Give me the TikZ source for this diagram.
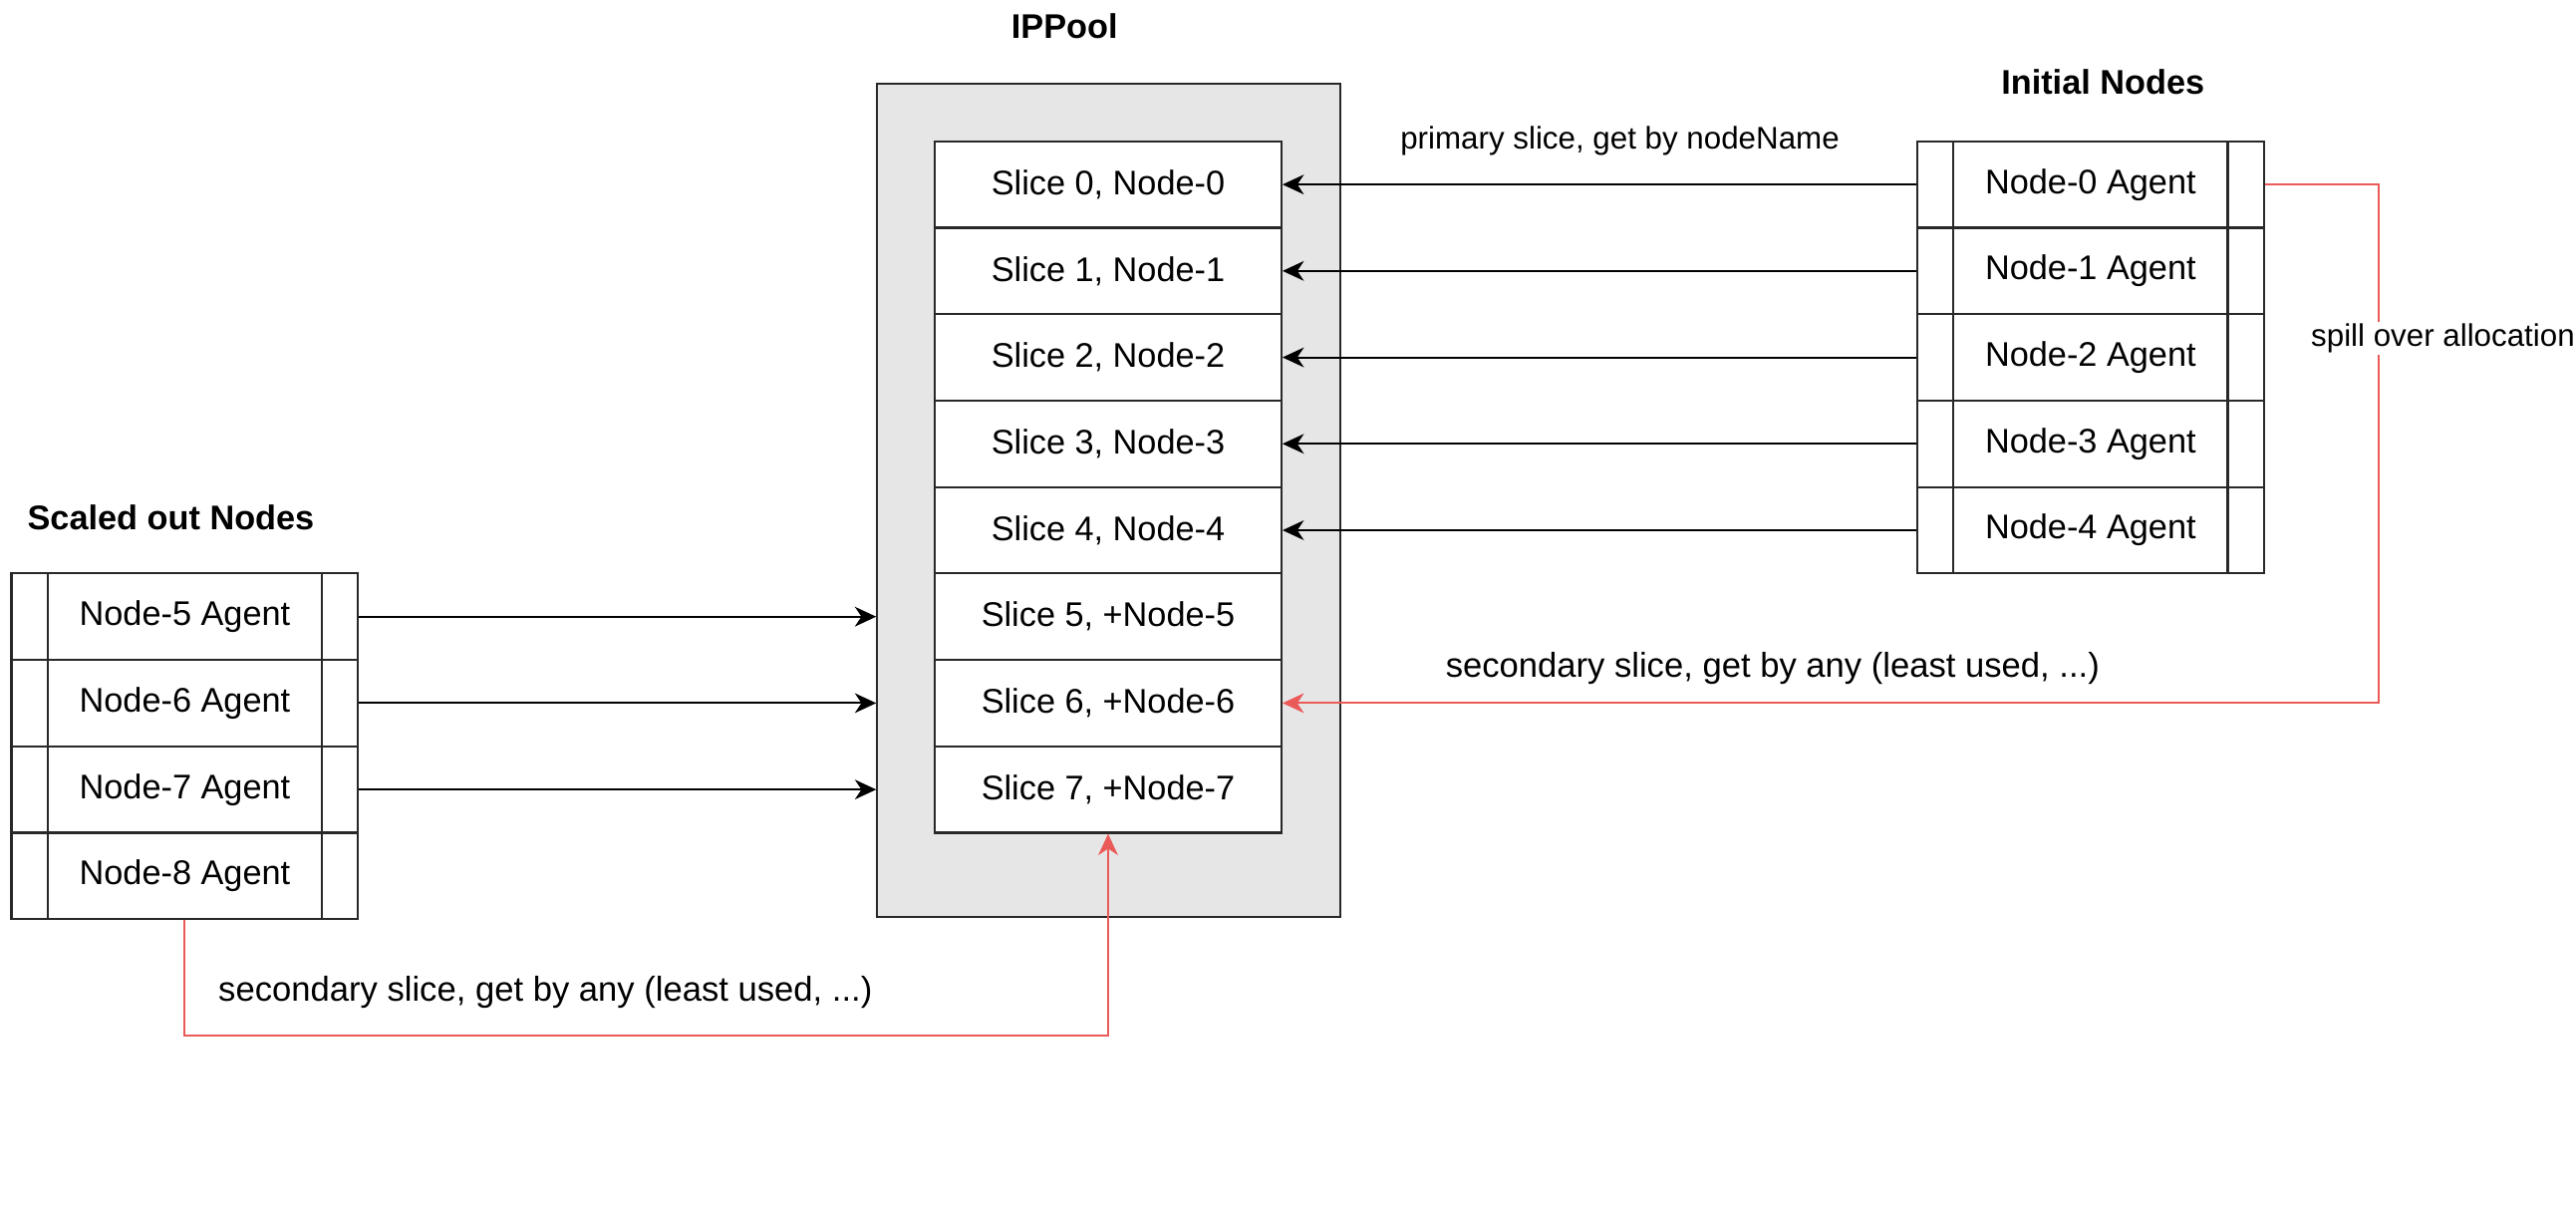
\documentclass[tikz,border=0pt]{standalone}
\usepackage{fontspec}
\setmainfont{Liberation Sans}
\usetikzlibrary{arrows.meta,calc}
\definecolor{redline}{RGB}{234,90,88}
\definecolor{poolfill}{RGB}{230,230,230}
\definecolor{boxline}{RGB}{40,40,40}
\tikzset{
  slicebox/.style={draw=boxline,line width=1.3pt,fill=white,minimum width=211pt,minimum height=52.6pt,inner sep=0pt,font=\fontsize{20.8}{25}\selectfont},
  agentbox/.style={slicebox,path picture={
      \draw[boxline,line width=1.3pt] ([xshift=22pt]path picture bounding box.north west) -- ([xshift=22pt]path picture bounding box.south west);
      \draw[boxline,line width=1.3pt] ([xshift=-22pt]path picture bounding box.north east) -- ([xshift=-22pt]path picture bounding box.south east);}},
  titletext/.style={font=\fontsize{20.8}{25}\selectfont\bfseries,inner sep=0pt},
  edgelabel/.style={font=\fontsize{19}{23}\selectfont,inner sep=1pt},
  widelabel/.style={font=\fontsize{21}{25}\selectfont,inner sep=1pt},
  blackarrow/.style={draw=black,line width=1.2pt,-{Stealth[length=13pt,width=12pt,inset=4pt]}},
  redarrow/.style={draw=redline,line width=1.2pt,-{Stealth[length=13pt,width=12pt,inset=4pt]}},
}
\begin{document}
\begin{tikzpicture}[x=1pt,y=-1pt]
\useasboundingbox (0,0) rectangle (1568,733);
% IPPool container
\node[draw=boxline,line width=1.3pt,fill=poolfill,minimum width=282pt,minimum height=507pt,inner sep=0pt] (pool) at (675,304.5) {};
\node[titletext] (pooltitle) at (648,16) {IPPool};
\node[titletext] (inittitle) at (1280,50) {Initial Nodes};
\node[titletext] (scaletitle) at (104,315) {Scaled out Nodes};
% slices
\node[slicebox] (sl0) at (674.5,112.3) {Slice 0, Node-0};
\node[slicebox] (sl1) at (674.5,164.9) {Slice 1, Node-1};
\node[slicebox] (sl2) at (674.5,217.5) {Slice 2, Node-2};
\node[slicebox] (sl3) at (674.5,270.1) {Slice 3, Node-3};
\node[slicebox] (sl4) at (674.5,322.7) {Slice 4, Node-4};
\node[slicebox] (sl5) at (674.5,375.3) {Slice 5, +Node-5};
\node[slicebox] (sl6) at (674.5,427.9) {Slice 6, +Node-6};
\node[slicebox] (sl7) at (674.5,480.5) {Slice 7, +Node-7};
% initial nodes
\node[agentbox] (in0) at (1272.5,112.3) {Node-0 Agent};
\node[agentbox] (in1) at (1272.5,164.9) {Node-1 Agent};
\node[agentbox] (in2) at (1272.5,217.5) {Node-2 Agent};
\node[agentbox] (in3) at (1272.5,270.1) {Node-3 Agent};
\node[agentbox] (in4) at (1272.5,322.7) {Node-4 Agent};
% scaled out nodes
\node[agentbox] (sc5) at (112.5,375.3) {Node-5 Agent};
\node[agentbox] (sc6) at (112.5,427.9) {Node-6 Agent};
\node[agentbox] (sc7) at (112.5,480.5) {Node-7 Agent};
\node[agentbox] (sc8) at (112.5,533.1) {Node-8 Agent};
% primary arrows
\draw[blackarrow] (in0.west) -- (sl0.east);
\draw[blackarrow] (in1.west) -- (sl1.east);
\draw[blackarrow] (in2.west) -- (sl2.east);
\draw[blackarrow] (in3.west) -- (sl3.east);
\draw[blackarrow] (in4.west) -- (sl4.east);
\node[edgelabel] (primlabel) at (986,86) {primary slice, get by nodeName};
% scaled arrows
\draw[blackarrow] (sc5.east) -- (sc5.east -| pool.west);
\draw[blackarrow] (sc6.east) -- (sc6.east -| pool.west);
\draw[blackarrow] (sc7.east) -- (sc7.east -| pool.west);
% spill over
\coordinate (spill) at (1448,112.3);
\draw[redarrow] (in0.east) -- (spill) |- (sl6.east);
\node[edgelabel,fill=white] (spilllabel) at (1487,206) {spill over allocation};
\node[widelabel] (seclabel1) at (1079,407) {secondary slice, get by any (least used, ...)};
% secondary from node-8
\coordinate (bottomcorner) at (112.5,630);
\draw[redarrow] (sc8.south) -- (bottomcorner) -| (sl7.south);
\node[widelabel] (seclabel2) at (332,604) {secondary slice, get by any (least used, ...)};
\end{tikzpicture}
\end{document}
